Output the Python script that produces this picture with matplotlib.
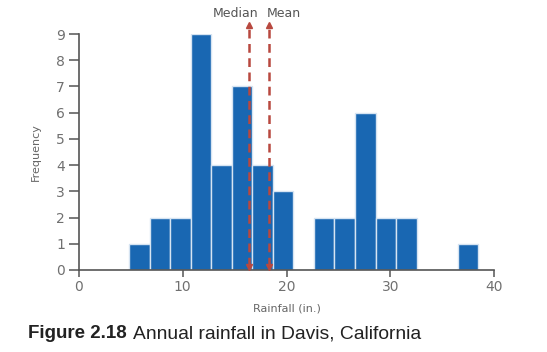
import numpy as np
import matplotlib
matplotlib.use("Agg")
import matplotlib.pyplot as plt

# Data
bin_start = 4.85
bin_end = 38.45
counts = [1, 2, 2, 9, 4, 7, 4, 3, 0, 2, 2, 6, 2, 2, 0, 0, 1]
median_val = 16.4
mean_val = 18.35
x_ticks = [0, 10, 20, 30, 40]
y_ticks = list(range(10))

edges = np.linspace(bin_start, bin_end, len(counts) + 1)
widths = np.diff(edges)

fig = plt.figure(figsize=(5.47, 3.52), dpi=100)
ax = fig.add_axes([0.1439, 0.2330, 0.9037 - 0.1439, 0.9034 - 0.2330])

bar_color = "#1967b2"
ax.bar(edges[:-1], counts, width=widths, align="edge", color=bar_color,
       edgecolor="#d6e4f2", linewidth=1.0, zorder=2)

ax.set_xlim(0, 40)
ax.set_ylim(0, 9)
ax.set_xticks(x_ticks)
ax.set_yticks(y_ticks)

spine_color = "#555555"
for s in ["top", "right"]:
    ax.spines[s].set_visible(False)
for s in ["left", "bottom"]:
    ax.spines[s].set_color(spine_color)
    ax.spines[s].set_linewidth(1.2)
ax.spines["bottom"].set_zorder(3)

ax.tick_params(axis="y", length=7, width=1.1, color=spine_color,
               labelcolor="#707070", labelsize=10, pad=3)
ax.tick_params(axis="x", length=5, width=1.1, color=spine_color,
               labelcolor="#707070", labelsize=10, pad=2)

ax.set_xlabel("Rainfall (in.)", fontsize=8, color="#666666", labelpad=7)
ax.set_ylabel("Frequency", fontsize=8, color="#666666", labelpad=11)

arrow_color = "#b8483f"
for v in [median_val, mean_val]:
    ax.plot([v, v], [0.15, 9.25], color=arrow_color, linestyle=(0, (3.5, 2.2)),
            linewidth=1.8, clip_on=False, zorder=4)
    ax.plot([v], [9.33], marker="^", color=arrow_color, markersize=5,
            clip_on=False, zorder=5)
    ax.plot([v], [0.12], marker="v", color=arrow_color, markersize=5,
            clip_on=False, zorder=5)

ax.text(median_val + 0.9, 9.55, "Median", ha="right", va="bottom",
        fontsize=9, color="#555555", clip_on=False)
ax.text(mean_val - 0.25, 9.55, "Mean", ha="left", va="bottom",
        fontsize=9, color="#555555", clip_on=False)

fig.text(28 / 547, 1 - 334 / 352, "Figure 2.18", fontsize=13.5, fontweight="bold",
         color="#222222", family="Liberation Sans", va="center", ha="left")
fig.text(133 / 547, 1 - 334 / 352, "Annual rainfall in Davis, California",
         fontsize=13.9, color="#222222", family="Liberation Sans", va="center", ha="left")

fig.savefig("out.png", dpi=100)
